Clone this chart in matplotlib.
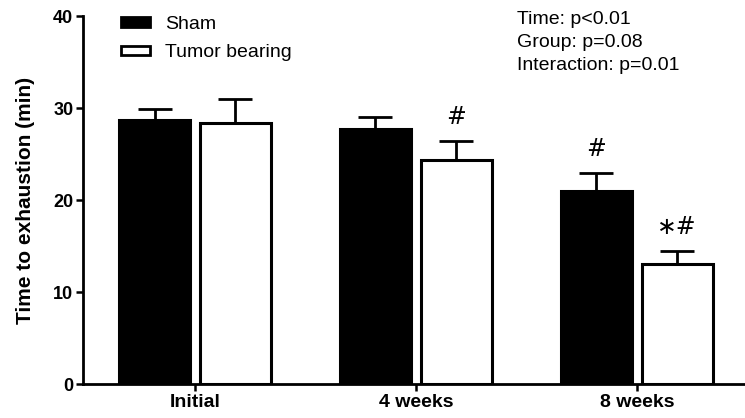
import numpy as np
import matplotlib
matplotlib.use("Agg")
import matplotlib.pyplot as plt
from matplotlib.patches import Patch

plt.rcParams['font.family'] = ['Liberation Sans', 'DejaVu Sans']

groups = ["Initial", "4 weeks", "8 weeks"]
sham = [28.7, 27.7, 21.0]
sham_err = [1.2, 1.3, 1.9]
tumor = [28.4, 24.3, 13.0]
tumor_err = [2.6, 2.1, 1.5]
sham_marks = ["", "", "#"]
tumor_marks = ["", "#", "\u2217#"]
stats_text = "Time: p<0.01\nGroup: p=0.08\nInteraction: p=0.01"

fig = plt.figure(figsize=(7.45, 4.18), dpi=100)
ax = fig.add_axes([0.1114, 0.0813, 0.8886, 0.8804])

x = np.arange(len(groups))
off = 0.183
w = 0.32
lw = 2.2

ax.bar(x - off, sham, w, color="black", edgecolor="black", linewidth=lw, zorder=3)
ax.bar(x + off, tumor, w, color="white", edgecolor="black", linewidth=lw, zorder=3)
ax.errorbar(x - off, sham, yerr=[np.zeros(3), sham_err], fmt="none", ecolor="black",
            elinewidth=2, capsize=12, capthick=2, zorder=2)
ax.errorbar(x + off, tumor, yerr=[np.zeros(3), tumor_err], fmt="none", ecolor="black",
            elinewidth=2, capsize=12, capthick=2, zorder=2)

mark_font = ["DejaVu Sans", "Liberation Sans"]
for i in range(3):
    if sham_marks[i]:
        ax.text(x[i] - off, sham[i] + sham_err[i] + 1.3, sham_marks[i], ha="center",
                va="bottom", fontsize=17, family=mark_font)
    if tumor_marks[i]:
        ax.text(x[i] + off, tumor[i] + tumor_err[i] + 1.3, tumor_marks[i], ha="center",
                va="bottom", fontsize=17, family=mark_font)

ax.set_xlim(-0.507, 2.49)
ax.set_ylim(0, 40)
ax.set_yticks([0, 10, 20, 30, 40])
ax.set_xticks(x)
ax.set_xticklabels(groups, fontweight="bold", fontsize=14)
for t in ax.get_yticklabels():
    t.set_fontweight("bold")
    t.set_fontsize(13)
ax.set_ylabel("Time to exhaustion (min)", fontweight="bold", fontsize=15, labelpad=13)

ax.spines["top"].set_visible(False)
ax.spines["right"].set_visible(False)
ax.spines["left"].set_linewidth(2)
ax.spines["bottom"].set_linewidth(2)
ax.tick_params(axis="both", width=1.8, length=5, pad=2)

handles = [Patch(facecolor="black", edgecolor="black", linewidth=2),
           Patch(facecolor="white", edgecolor="black", linewidth=2)]
fig.legend(handles, ["Sham", "Tumor bearing"], loc="upper left",
           bbox_to_anchor=(0.1624, 0.962), borderpad=0, borderaxespad=0,
           frameon=False, fontsize=14, handlelength=1.5, handleheight=0.36,
           handletextpad=0.77, labelspacing=0.58)

fig.text(517 / 745, 1 - 11 / 418, stats_text, ha="left", va="top",
         fontsize=14, linespacing=1.48)

fig.savefig("out.png", dpi=100)
